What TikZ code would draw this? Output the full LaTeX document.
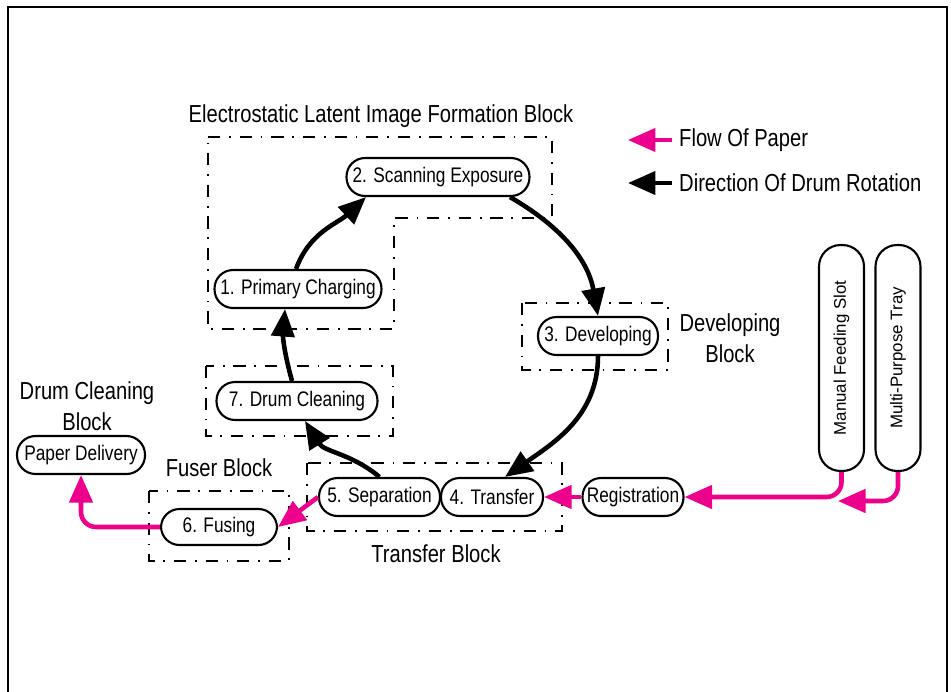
\documentclass[tikz,border=0pt]{standalone}
\usepackage{fontspec}
\setmainfont{Liberation Sans}[FakeStretch=0.82]
\newfontfamily\widefont{Liberation Sans}
\usepackage{graphicx}
\usepackage{xcolor}
\usetikzlibrary{arrows,arrows.meta,calc,positioning}
\definecolor{paperpink}{RGB}{236,0,140}

\begin{document}
\begin{tikzpicture}[x=0.02cm,y=0.02cm,
	step_node/.style={draw,line width=1.2pt,rectangle,rounded corners=0.37cm,minimum height=0.76cm,inner sep=1pt,font=\fontsize{12}{14}\selectfont},
	tray_node/.style={step_node,rounded corners=0.43cm,minimum width=0.9cm,minimum height=4.52cm,font=\widefont\fontsize{9.6}{11}\selectfont},
	block_box/.style={line width=1.1pt,dash pattern=on 7pt off 5pt on 1pt off 5pt},
	block_label/.style={font=\fontsize{14}{17.5}\selectfont,align=center},
	drum_arrow/.style={line width=2.6pt,-{Triangle[length=0.55cm,width=0.46cm]}},
	paper_arrow/.style={paperpink,line width=2.6pt,-{Triangle[length=0.55cm,width=0.46cm]}}]
	\useasboundingbox (0,0) rectangle (951,-691);
	\draw[line width=1.5pt] (8,-7) rectangle (947,-720);

	% blocks
	\draw[block_box] (208,-137) -- (552,-137) -- (552,-218) -- (394,-218) -- (394,-329) -- (208,-329) -- cycle;
	\draw[block_box] (522,-303) rectangle (668,-370);
	\draw[block_box] (307,-463) rectangle (562,-531);
	\draw[block_box] (206,-366) rectangle (393,-436);
	\draw[block_box] (149,-491) rectangle (289,-561);
	\node[block_label](elif_label) at (381,-116){Electrostatic Latent Image Formation Block};
	\node[block_label](dev_label) at (730,-338){Developing\\Block};
	\node[block_label](transfer_label) at (436,-554){Transfer Block};
	\node[block_label](fuser_label) at (219,-468){Fuser Block};
	\node[block_label](clean_label) at (87,-406){Drum Cleaning\\Block};

	% steps
	\node[step_node,minimum width=3.34cm](1) at (298,-289){1. Primary Charging};
	\node[step_node,minimum width=3.66cm](2) at (438,-177){2. Scanning Exposure};
	\node[step_node,minimum width=2.4cm](3) at (598,-336){3. Developing};
	\node[step_node,minimum width=2.04cm](4) at (492,-497){4. Transfer};
	\node[step_node,minimum width=2.42cm](5) at (379.5,-497){5. Separation};
	\node[step_node,minimum width=2.32cm,minimum height=0.72cm](6) at (219,-527){6. Fusing};
	\node[step_node,minimum width=3.22cm](7) at (297,-401){7. Drum Cleaning};
	\node[step_node,minimum width=2.02cm](reg) at (633,-497){Registration};
	\node[step_node,minimum width=2.56cm](delivery) at (81,-455){Paper Delivery};
	\node[tray_node](manual) at (841.5,-358){\rotatebox{90}{Manual Feeding Slot}};
	\node[tray_node](tray) at (898,-358){\rotatebox{90}{Multi-Purpose Tray}};
	\coordinate (join) at (838,-501);

	% drum rotation
	\draw[drum_arrow] ([xshift=-0.04cm]1.north) to[out=70,in=-137] ([xshift=-1.44cm]2.south);
	\draw[drum_arrow] ([xshift=1.44cm]2.south) to[out=-30,in=100] (3.north);
	\draw[drum_arrow] (3.south) to[out=-90,in=35] ([xshift=0.26cm]4.north);
	\draw[drum_arrow] (5.north) to[out=140,in=-58] ([xshift=0.16cm]7.south);
	\draw[drum_arrow] ([xshift=-0.1cm]7.north) to[bend left=10] ([xshift=-0.26cm]1.south);

	% paper flow
	\draw[paper_arrow,rounded corners=0.3cm] (manual.south) |- (reg.east);
	\draw[paper_arrow,rounded corners=0.3cm] (tray.south) |- (join);
	\draw[paper_arrow] (reg.west) -- (4.east);
	\draw[paper_arrow] (5.west) -- (6.east);
	\draw[paper_arrow,rounded corners=0.3cm] (6.west) -| (delivery.south);

	% legend
	\node[block_label,anchor=west](flow) at (673,-140){Flow Of Paper};
	\node[block_label,anchor=west](rotation) at (673,-183){Direction Of Drum Rotation};
	\coordinate (flow_tail) at (672,-140);
	\coordinate (flow_tip) at (628,-140);
	\coordinate (rotation_tail) at (672,-183);
	\coordinate (rotation_tip) at (628,-183);
	\draw[paper_arrow] (flow_tail) -- (flow_tip);
	\draw[drum_arrow] (rotation_tail) -- (rotation_tip);
\end{tikzpicture}
\end{document}
